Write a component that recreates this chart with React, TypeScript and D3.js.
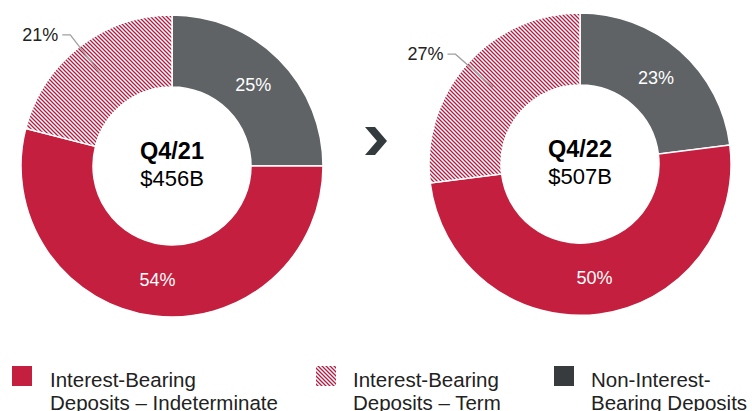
import React from "react";
import * as d3 from "d3";

const categories = ["Interest-Bearing Deposits – Indeterminate", "Interest-Bearing Deposits – Term", "Non-Interest-Bearing Deposits"];
const legendLines = [["Interest-Bearing", "Deposits – Indeterminate"], ["Interest-Bearing", "Deposits – Term"], ["Non-Interest-", "Bearing Deposits"]];
const periods = ["Q4/21", "Q4/22"];
const totals = ["$456B", "$507B"];
// order drawn clockwise from top: Non-Interest, Indeterminate, Term
const nonInterest = [25, 23];
const indeterminate = [54, 50];
const term = [21, 27];

const RED = "#c41f3e";
const GRAY = "#5f6366";
const HATCH = "#b31b40";

const W = 752, H = 411;
const centers = [{ x: 172, y: 166 }, { x: 580, y: 164 }];
const R = 151, r = 79;

export default function App() {
  const pie = d3.pie<any>().sort(null).value((d: any) => d.v);
  const arc = d3.arc<any>().innerRadius(r).outerRadius(R);
  const font = "'Liberation Sans', Arial, sans-serif";
  return (
    <svg width={W} height={H} style={{ position: "absolute", left: 0, top: 0, fontFamily: font }}>
      <defs>
        <pattern id="hatch" patternUnits="userSpaceOnUse" width="4" height="4">
          <rect width="4" height="4" fill="#fff" />
          <path d="M-1,-1 L5,5 M-1,3 L1,5 M3,-1 L5,1" stroke={HATCH} strokeWidth="1.3" />
        </pattern>
      </defs>
      <rect width={W} height={H} fill="#fff" />
      {centers.map((c, i) => {
        const data = [
          { k: "non", v: nonInterest[i], fill: GRAY },
          { k: "ind", v: indeterminate[i], fill: RED },
          { k: "term", v: term[i], fill: "url(#hatch)" },
        ];
        const arcs = pie(data);
        const labelArc = d3.arc<any>().innerRadius((r + R) / 2).outerRadius((r + R) / 2);
        return (
          <g key={i} transform={`translate(${c.x},${c.y})`}>
            {arcs.map((a: any, j: number) => (
              <path key={j} d={arc(a) as string} fill={a.data.fill} stroke="#fff" strokeWidth={1.5} />
            ))}
            {arcs.map((a: any, j: number) => {
              const [lx, ly] = labelArc.centroid(a);
              if (a.data.k === "term") {
                const mid = (a.startAngle + a.endAngle) / 2;
                const rEnd = 116, rEl = 166;
                const ex = Math.sin(mid) * rEnd, ey = -Math.cos(mid) * rEnd;
                const bx = Math.sin(mid) * rEl, by = -Math.cos(mid) * rEl;
                return (
                  <g key={"l" + j}>
                    <polyline points={`${ex},${ey} ${bx},${by} ${bx - 8},${by}`} fill="none" stroke="#a0a0a0" strokeWidth={1.3} />
                    <text x={bx - 12} y={by + 6} textAnchor="end" fontSize={18} fill="#222">{a.data.v}%</text>
                  </g>
                );
              }
              return (
                <text key={"l" + j} x={lx} y={ly + 6} textAnchor="middle" fontSize={18} fill="#fff">{a.data.v}%</text>
              );
            })}
            <text x={0} y={-7} textAnchor="middle" fontSize={23.5} fontWeight="bold" fill="#000">{periods[i]}</text>
            <text x={0} y={20} textAnchor="middle" fontSize={22} fill="#000">{totals[i]}</text>
          </g>
        );
      })}
      <path d="M365,127 L375,127 L387,141 L375,155 L365,155 L377,141 Z" fill="#333b3e" />
      {categories.map((cat, i) => {
        const xs = [12, 316, 554][i];
        const tx = [50, 353, 591][i];
        const fill = i === 0 ? RED : i === 1 ? "url(#hatch)" : "#373b3e";
        return (
          <g key={cat}>
            <rect x={xs} y={366} width={20} height={20} fill={fill} />
            {legendLines[i].map((t, k) => (
              <text key={k} x={tx} y={387 + k * 23} fontSize={20.5} fill="#222">{t}</text>
            ))}
          </g>
        );
      })}
    </svg>
  );
}
